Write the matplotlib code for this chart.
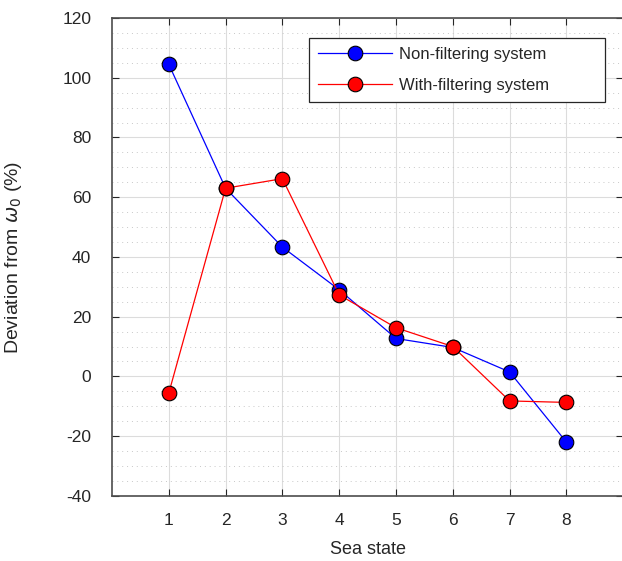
import numpy as np
import matplotlib
matplotlib.use("Agg")
import matplotlib.pyplot as plt
from matplotlib.ticker import MultipleLocator

plt.rcParams['font.family'] = ['Liberation Sans', 'DejaVu Sans']
plt.rcParams['axes.unicode_minus'] = False

sea_state = [1, 2, 3, 4, 5, 6, 7, 8]
non_filtering = [104.5, 63.0, 43.3, 29.0, 12.7, 9.7, 1.5, -22.0]
with_filtering = [-5.6, 63.0, 66.2, 27.3, 16.3, 10.0, -8.2, -8.7]
labels = ["Non-filtering system", "With-filtering system"]

txt = '#262626'
fig = plt.figure(figsize=(6.22, 5.61), dpi=100)
ax = fig.add_axes([0.18, 0.116, 0.822, 0.852])

ax.plot(sea_state, non_filtering, '-o', color='blue', lw=0.9, marker='o', ms=10.5,
        mfc='blue', mec='black', mew=0.8, label=labels[0], zorder=3)
ax.plot(sea_state, with_filtering, '-o', color='red', lw=0.9, marker='o', ms=10.5,
        mfc='red', mec='black', mew=0.8, label=labels[1], zorder=3)

ax.set_xlim(0, 9)
ax.set_ylim(-40, 120)
ax.set_xticks(sea_state)
ax.yaxis.set_major_locator(MultipleLocator(20))
ax.yaxis.set_minor_locator(MultipleLocator(5))
ax.grid(which='major', color='#dcdcdc', lw=0.8)
ax.grid(which='minor', axis='y', color='#c8c8c8', lw=0.7, ls=(0, (1, 4)))
ax.set_axisbelow(True)

ax.tick_params(which='major', direction='in', top=True, right=True, length=5,
               labelsize=12.5, colors=txt, width=0.8)
ax.tick_params(which='minor', length=0, top=True, right=True)
ax.tick_params(axis='x', pad=12)
ax.tick_params(axis='y', pad=15)
for s in ax.spines.values():
    s.set_color('#4d4d4d')
    s.set_linewidth(1.2)

ax.set_xlabel("Sea state", fontsize=13, color=txt, labelpad=10)
ax.set_ylabel(r"Deviation from $\omega_0$ (%)", fontsize=14, color=txt)
ax.yaxis.set_label_coords(-0.172, 0.5)

leg = ax.legend(loc='upper left',
                bbox_to_anchor=(309 / 622, 1 - 105 / 561, 296 / 622, 67 / 561),
                bbox_transform=fig.transFigure, borderaxespad=0, mode='expand',
                fontsize=12, fancybox=False, framealpha=1, edgecolor='#262626',
                handlelength=4.4, handletextpad=0.45, borderpad=0.55,
                labelspacing=0.95)
leg.get_frame().set_linewidth(0.9)
for t in leg.get_texts():
    t.set_color(txt)

fig.savefig("out.png", dpi=100)
